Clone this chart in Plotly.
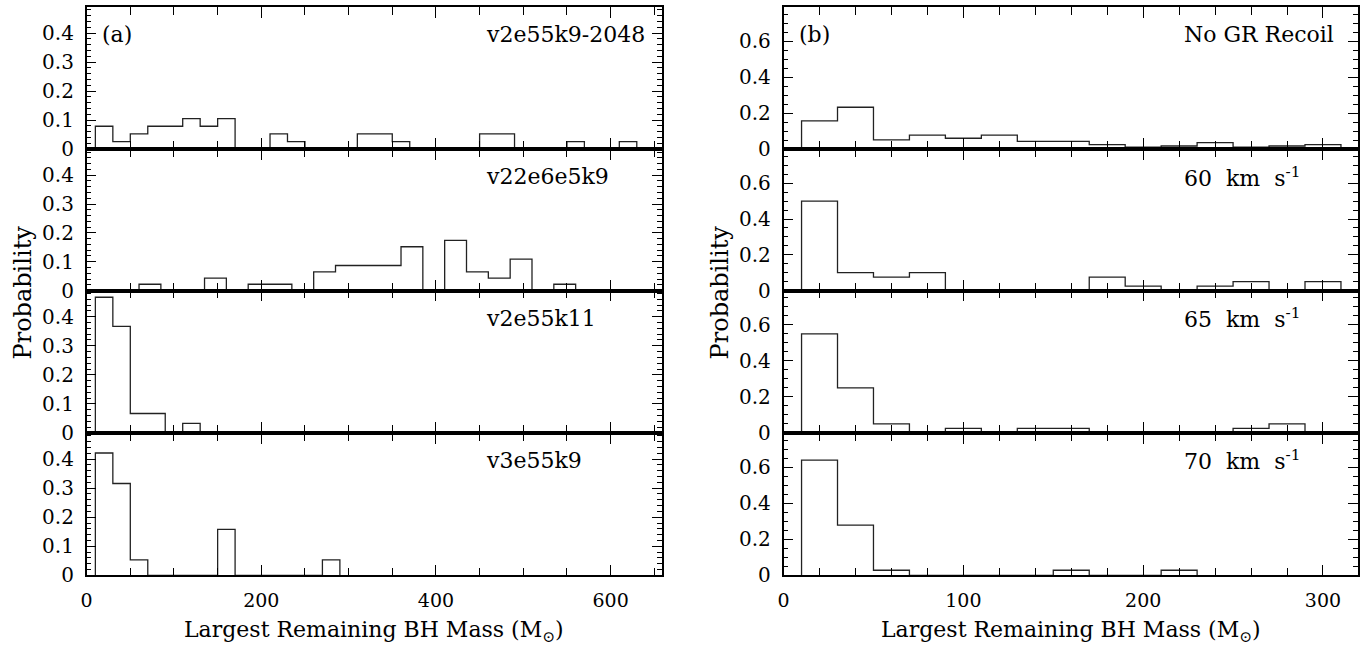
import plotly.graph_objects as go

W, H = 1367, 657

# ---------------- data (probability per bin) ----------------
# left column (a): bin start, bin width, probabilities
a1_name = "v2e55k9-2048"
a1_start, a1_width = 10, 20
a1_prob = [0.079, 0.026, 0.053, 0.079, 0.079, 0.105, 0.079, 0.105, 0, 0,
           0.053, 0.026, 0, 0, 0, 0.053, 0.053, 0.026, 0, 0,
           0, 0, 0.053, 0.053, 0, 0, 0, 0.026, 0, 0, 0.026]

a2_name = "v22e6e5k9"
a2_start, a2_width = 10, 25
a2_prob = [0, 0, 0.022, 0, 0, 0.043, 0, 0.022, 0.022, 0, 0.065,
           0.087, 0.087, 0.087, 0.152, 0, 0.174, 0.065, 0.043, 0.109, 0, 0.022]

a3_name = "v2e55k11"
a3_start, a3_width = 10, 20
a3_prob = [0.467, 0.367, 0.067, 0.067, 0, 0.033]

a4_name = "v3e55k9"
a4_start, a4_width = 10, 20
a4_prob = [0.421, 0.316, 0.053, 0, 0, 0, 0, 0.158, 0, 0, 0, 0, 0, 0.053]

# right column (b)
b1_name = "No GR Recoil"
b1_start, b1_width = 10, 20
b1_prob = [0.157, 0.233, 0.052, 0.078, 0.061, 0.078, 0.044, 0.044, 0.026,
           0.011, 0.018, 0.037, 0.011, 0.018, 0.026]

b2_name = "60  km  s<sup>-1</sup>"
b2_start, b2_width = 10, 20
b2_prob = [0.5, 0.1, 0.075, 0.1, 0, 0, 0, 0, 0.075, 0.025, 0, 0.025, 0.05, 0, 0.05]

b3_name = "65  km  s<sup>-1</sup>"
b3_start, b3_width = 10, 20
b3_prob = [0.55, 0.25, 0.05, 0, 0.025, 0, 0.025, 0.025, 0, 0, 0, 0, 0.025, 0.05]

b4_name = "70  km  s<sup>-1</sup>"
b4_start, b4_width = 10, 20
b4_prob = [0.639, 0.278, 0.028, 0, 0, 0, 0, 0.028, 0, 0, 0.028]

left_xticks = [0, 200, 400, 600]
right_xticks = [0, 100, 200, 300]
x_title = "Largest Remaining BH Mass (M<sub>⊙</sub>)"
y_title = "Probability"

# ---------------- layout geometry ----------------
FONT = "DejaVu Serif"
LX0, LX1 = 81, 659
RX0, RX1 = 781, 1358
PANEL_EDGES = [7, 152, 296, 441, 586]

def px_x(p):
    return p / W

def px_y(p):
    return 1 - p / H

left_panels = [(a1_name, a1_start, a1_width, a1_prob),
               (a2_name, a2_start, a2_width, a2_prob),
               (a3_name, a3_start, a3_width, a3_prob),
               (a4_name, a4_start, a4_width, a4_prob)]
right_panels = [(b1_name, b1_start, b1_width, b1_prob),
                (b2_name, b2_start, b2_width, b2_prob),
                (b3_name, b3_start, b3_width, b3_prob),
                (b4_name, b4_start, b4_width, b4_prob)]

fig = go.Figure()
layout = dict(width=W, height=H, margin=dict(l=0, r=0, t=0, b=0),
              plot_bgcolor="white", paper_bgcolor="white", showlegend=False,
              font=dict(family=FONT, color="black"))
annotations = []

def step_xy(start, width, probs):
    n = len(probs)
    xs = [start] + [start + i * width for i in range(n + 1)]
    ys = [0] + list(probs) + [0]
    return xs, ys

idx = 0
for col, panels in enumerate([left_panels, right_panels]):
    for row, (name, start, width, probs) in enumerate(panels):
        idx += 1
        xa = "x" if idx == 1 else f"x{idx}"
        ya = "y" if idx == 1 else f"y{idx}"
        xs, ys = step_xy(start, width, probs)
        fig.add_trace(go.Scatter(x=xs, y=ys, mode="lines", line_shape="hv",
                                 line=dict(color="#222222", width=1.3),
                                 xaxis=xa, yaxis=ya, hoverinfo="skip"))
        top = PANEL_EDGES[row]
        bot = PANEL_EDGES[row + 1]
        if col == 0:
            xd = [px_x(LX0), px_x(LX1)]
            xr = [0, 659]
            major = left_xticks
            minor_dt = 50
            yr = [0, 0.49]
            ydt, ymin_dt = 0.1, 0.02
            lab_x = 480
        else:
            xd = [px_x(RX0), px_x(RX1)]
            xr = [0, 319.5]
            major = right_xticks
            minor_dt = 20
            yr = [0, 0.79]
            ydt, ymin_dt = 0.2, 0.05
            lab_x = 1181
        last = (row == 3)
        layout["xaxis" if idx == 1 else f"xaxis{idx}"] = dict(
            domain=xd, range=xr, anchor=ya,
            showline=True, linecolor="black", linewidth=1.5, mirror="allticks",
            ticks="inside", tickvals=major, ticklen=11, tickwidth=1.2, tickcolor="black",
            minor=dict(ticks="inside", dtick=minor_dt, tick0=0, ticklen=8,
                       tickwidth=1.2, tickcolor="black", showgrid=False),
            showticklabels=last, tickfont=dict(family=FONT, size=19),
            ticklabelstandoff=7,
            showgrid=False, zeroline=False, fixedrange=True)
        layout["yaxis" if idx == 1 else f"yaxis{idx}"] = dict(
            domain=[px_y(bot), px_y(top)], range=yr, anchor=xa,
            showline=True, linecolor="black", linewidth=1.5, mirror="allticks",
            ticks="inside", dtick=ydt, tick0=0, ticklen=10, tickwidth=1.2, tickcolor="black",
            minor=dict(ticks="inside", dtick=ymin_dt, tick0=0, ticklen=5,
                       tickwidth=1.2, tickcolor="black", showgrid=False),
            tickfont=dict(family=FONT, size=20), ticklabelstandoff=7,
            showgrid=False, zeroline=False, fixedrange=True)
        annotations.append(dict(text=name, xref="paper", yref="paper",
                                x=px_x(lab_x), y=px_y(top + 28),
                                xanchor="left", yanchor="middle", showarrow=False,
                                font=dict(family=FONT, size=22, color="black")))

# panel letters
annotations.append(dict(text="(a)", xref="paper", yref="paper", x=px_x(94), y=px_y(35),
                        xanchor="left", yanchor="middle", showarrow=False,
                        font=dict(family=FONT, size=22)))
annotations.append(dict(text="(b)", xref="paper", yref="paper", x=px_x(794), y=px_y(35),
                        xanchor="left", yanchor="middle", showarrow=False,
                        font=dict(family=FONT, size=22)))
# axis titles
for cx in [(LX0 + LX1) / 2, (RX0 + RX1) / 2]:
    annotations.append(dict(text=x_title, xref="paper", yref="paper", x=px_x(cx), y=px_y(643),
                            xanchor="center", yanchor="middle", showarrow=False,
                            font=dict(family=FONT, size=22)))
for cx in [17, 717]:
    annotations.append(dict(text=y_title, xref="paper", yref="paper", x=px_x(cx), y=px_y(298),
                            xanchor="center", yanchor="middle", textangle=-90, showarrow=False,
                            font=dict(family=FONT, size=24)))

layout["annotations"] = annotations
fig.update_layout(**layout)
fig.write_html("out.html")
